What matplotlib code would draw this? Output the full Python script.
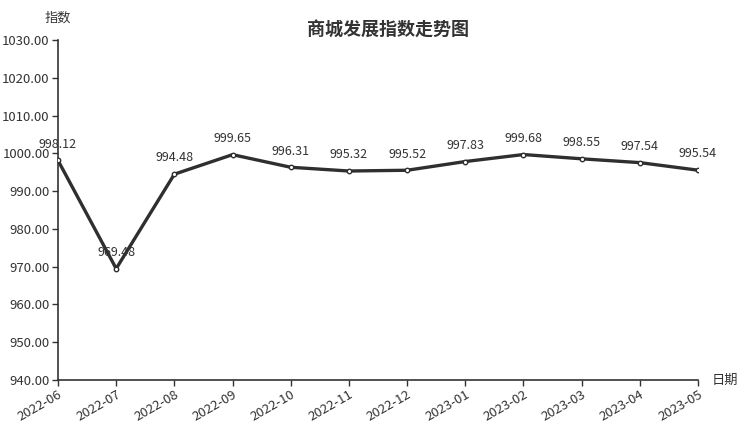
import matplotlib
matplotlib.use('Agg')
import matplotlib.pyplot as plt

plt.rcParams['font.family'] = ['Noto Sans CJK SC', 'DejaVu Sans']

# 数据
dates  = ['2022-06', '2022-07', '2022-08', '2022-09', '2022-10', '2022-11',
          '2022-12', '2023-01', '2023-02', '2023-03', '2023-04', '2023-05']
values = [998.12, 969.48, 994.48, 999.65, 996.31, 995.32,
          995.52, 997.83, 999.68, 998.55, 997.54, 995.54]
yticks = [940, 950, 960, 970, 980, 990, 1000, 1010, 1020, 1030]

TXT = '#333333'
LINE = '#2f2f2f'

fig = plt.figure(figsize=(7.52, 4.26), dpi=100)
ax = fig.add_axes([58/752, 1 - 380/426, 640/752, 340/426])

x = list(range(len(dates)))
ax.plot(x, values, color=LINE, linewidth=2.4, marker='o', markersize=3.2,
        markerfacecolor='white', markeredgecolor=LINE, markeredgewidth=1, zorder=3)

for xi, v in zip(x, values):
    ax.annotate(f'{v:.2f}', (xi, v), xytext=(0, 7), textcoords='offset points',
                ha='center', va='bottom', fontsize=9, color=TXT)

ax.set_xlim(0, len(dates) - 1)
ax.set_ylim(940, 1030)
ax.set_xticks(x)
ax.set_xticklabels(dates, rotation=30, ha='right', rotation_mode='anchor')
ax.set_yticks(yticks)
ax.set_yticklabels([f'{t:.2f}' for t in yticks])
ax.tick_params(colors=TXT, labelsize=9.5, length=4, width=1)
ax.tick_params(axis='x', pad=2)
ax.tick_params(axis='y', pad=2)

for s in ['top', 'right']:
    ax.spines[s].set_visible(False)
for s in ['left', 'bottom']:
    ax.spines[s].set_color(TXT)
    ax.spines[s].set_linewidth(1.2)

fig.text(58/752, 1 - 18/426, '指数', ha='center', va='center', fontsize=9.5, color=TXT)
fig.text(725/752, 1 - 380/426, '日期', ha='center', va='center', fontsize=9.5, color=TXT)
fig.text(388/752, 1 - 29/426, '商城发展指数走势图', ha='center', va='center',
         fontsize=13, fontweight='bold', color=TXT)

fig.savefig('out.png', dpi=100)
